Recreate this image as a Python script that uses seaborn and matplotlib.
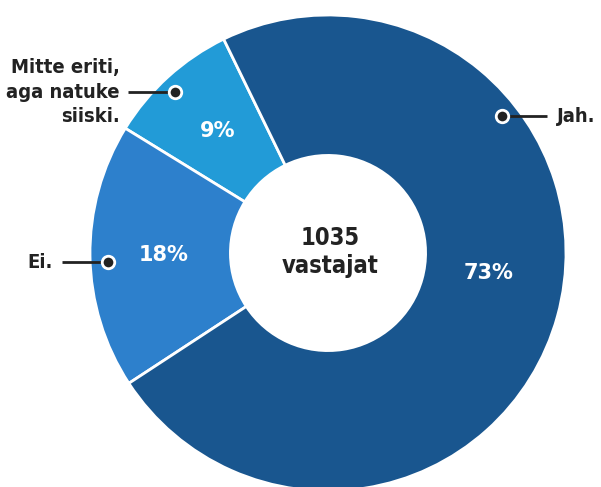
import matplotlib
matplotlib.use("Agg")
import matplotlib.pyplot as plt
import seaborn as sns
import numpy as np

# data
categories = ["Mitte eriti,\naga natuke\nsiiski.", "Ei.", "Jah."]
shares = [9, 18, 73]
colors = ["#229bd7", "#2d80cc", "#19568f"]
total_label = "1035\nvastajat"

sns.set_theme(style="white")
plt.rcParams["font.family"] = ["DejaVu Sans"]

W, H = 601, 487
fig = plt.figure(figsize=(W / 100, H / 100), dpi=100)
ax = fig.add_axes([0, 0, 1, 1])

cx, cy, r = 328, 487 - 253, 238
wedges, _, autotexts = ax.pie(
    shares,
    colors=colors,
    startangle=116,
    counterclock=True,
    center=(cx, cy),
    radius=r,
    autopct="%d%%",
    pctdistance=0.69,
    wedgeprops=dict(width=r * 0.59, edgecolor="white", linewidth=2),
    textprops=dict(color="white", fontsize=15, fontweight="bold", family="DejaVu Sans"),
    frame=True,
)
# the big slice label sits a bit above its mid-angle
ang = np.deg2rad(-7)
autotexts[2].set_position((cx + 0.68 * r * np.cos(ang), cy + 0.68 * r * np.sin(ang)))

ax.text(cx + 2, cy + 1, total_label, ha="center", va="center", fontsize=17,
        fontweight="bold", fontstretch="condensed", color="#222222", linespacing=1.2)

# leader lines with dots
leaders = [
    ((128, 175), 487 - 92, 120, "right"),
    ((62, 108), 487 - 262, 53, "right"),
    ((547, 502), 487 - 116, 557, "left"),
]
for (x0, x1), y, tx, ha in leaders:
    ax.plot([x0, x1], [y, y], color="#222222", lw=2, solid_capstyle="butt", zorder=5)
    ax.plot([x1], [y], marker="o", ms=9, mfc="#222222", mec="white", mew=2, zorder=6)

for (xs, y, tx, ha), lab in zip(leaders, categories):
    ax.text(tx, y, lab, ha=ha, va="center", fontsize=14.5, fontweight="bold",
            fontstretch="condensed", color="#222222", linespacing=1.4,
            multialignment="right")

ax.set_xlim(0, W)
ax.set_ylim(0, H)
ax.set_aspect("auto")
ax.axis("off")

fig.savefig("out.png", dpi=100)
